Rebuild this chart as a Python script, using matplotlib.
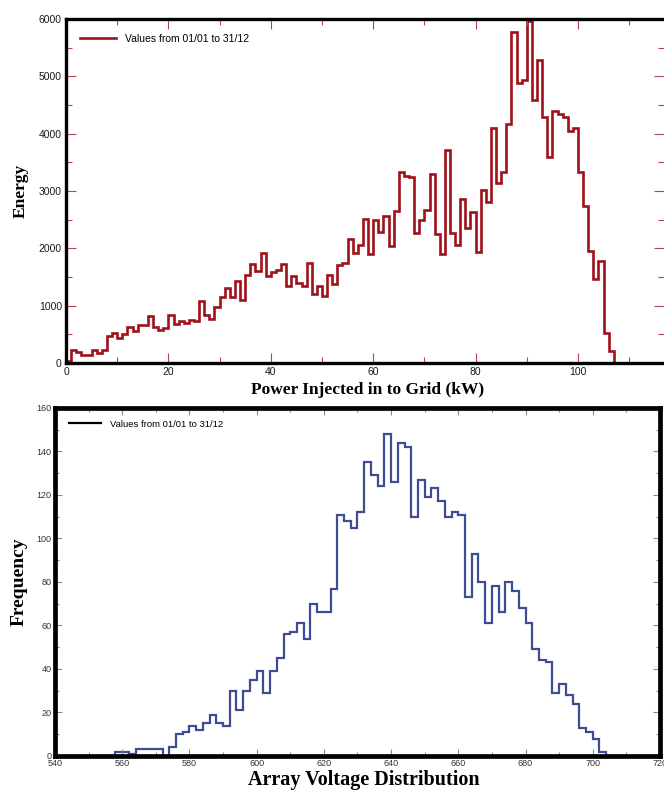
import numpy as np
import matplotlib
matplotlib.use("Agg")
import matplotlib.pyplot as plt
from matplotlib.ticker import MultipleLocator

# Energy injected per 1 kW power bin, starting at 0 kW
POWER_BIN_START = 0
POWER_BIN_WIDTH = 1
energy = [
    40, 222, 192, 140, 140, 222, 175, 227, 477, 524,
    442, 500, 628, 553, 657, 657, 820, 628, 582, 617,
    832, 675, 733, 698, 745, 733, 1082, 843, 774, 978,
    1152, 1315, 1152, 1425, 1106, 1530, 1722, 1610, 1920, 1513,
    1588, 1629, 1734, 1344, 1524, 1402, 1344, 1746, 1210, 1344,
    1164, 1536, 1373, 1716, 1746, 2171, 1920, 2066, 2508, 1909,
    2491, 2287, 2561, 2036, 2654, 3335, 3259, 3236, 2270, 2502,
    2677, 3294, 2247, 1909, 3720, 2270, 2066, 2858, 2357, 2625,
    1938, 3015, 2811, 4103, 3131, 3329, 4161, 5773, 4889, 4935,
    5970, 4586, 5285, 4295, 3597, 4394, 4342, 4295, 4045, 4091,
    3323, 2735, 1956, 1461, 1775, 524, 210,
]

# Array voltage histogram, 2 V bins starting at 558 V
VOLT_BIN_START = 558
VOLT_BIN_WIDTH = 2
frequency = [
    2, 2, 1, 3, 3, 3, 3, 0, 4, 10,
    11, 14, 12, 15, 19, 15, 14, 30, 21, 30,
    35, 39, 29, 39, 45, 56, 57, 61, 54, 70,
    66, 66, 77, 111, 108, 105, 112, 135, 129, 124,
    148, 126, 144, 142, 110, 127, 119, 123, 117, 110,
    112, 111, 73, 93, 80, 61, 78, 66, 80, 76,
    68, 61, 49, 44, 43, 29, 33, 28, 24, 13,
    11, 8, 2,
]

LEGEND_LABEL = "Values from 01/01 to 31/12"

RED = "#A0111A"
RED_TICK = "#B8444A"
BLUE = "#3E4C96"
GRAY_TICK = "#8A8A8A"

plt.rcParams.update({"font.family": ["Liberation Sans", "DejaVu Sans"]})
SERIF = ["Liberation Serif", "DejaVu Serif"]


def bin_edges(start, width, n):
    return start + width * np.arange(n + 1)


def style_axes(ax, tick_color, spine_width, major_len, minor_len, label_size, label_color, pad):
    ax.tick_params(which="both", direction="in", top=True, right=True, color=tick_color, width=0.8)
    ax.tick_params(which="major", length=major_len, labelsize=label_size,
                   labelcolor=label_color, pad=pad)
    ax.tick_params(which="minor", length=minor_len)
    for side in ("left", "right", "top", "bottom"):
        ax.spines[side].set_linewidth(spine_width)
        ax.spines[side].set_color("black")


fig = plt.figure(figsize=(6.64, 7.91), dpi=100)

# ---- top: energy vs power injected ----
ax1 = fig.add_axes([0.0994, 0.5411, 0.9006, 0.4349])
ax1.stairs(energy, bin_edges(POWER_BIN_START, POWER_BIN_WIDTH, len(energy)),
           color=RED, linewidth=1.9, label=LEGEND_LABEL)
ax1.set_xlim(0, 116.8)
ax1.set_ylim(0, 6000)
ax1.xaxis.set_major_locator(MultipleLocator(20))
ax1.xaxis.set_minor_locator(MultipleLocator(10))
ax1.yaxis.set_major_locator(MultipleLocator(1000))
ax1.yaxis.set_minor_locator(MultipleLocator(500))
style_axes(ax1, RED_TICK, 2.4, 7, 4, 7.5, "#1a1a1a", 3)
ax1.spines["right"].set_visible(False)
ax1.set_xlabel("Power Injected in to Grid (kW)", family=SERIF, fontweight="bold",
               fontsize=12.5, va="center")
ax1.xaxis.set_label_coords(0.505, -0.078)
ax1.set_ylabel("Energy", family=SERIF, fontweight="bold", fontsize=12.5, va="center")
ax1.yaxis.set_label_coords(-0.076, 0.5)
ax1.legend(loc="upper left", bbox_to_anchor=(0.0234, 0.956), frameon=False,
           fontsize=7.5, handlelength=3.5, handletextpad=0.8,
           borderpad=0, borderaxespad=0)

# ---- bottom: array voltage distribution ----
ax2 = fig.add_axes([0.0828, 0.04425, 0.9111, 0.44])
ax2.stairs(frequency, bin_edges(VOLT_BIN_START, VOLT_BIN_WIDTH, len(frequency)),
           color=BLUE, linewidth=1.6, label=LEGEND_LABEL)
ax2.set_xlim(540, 720)
ax2.set_ylim(0, 160)
ax2.xaxis.set_major_locator(MultipleLocator(20))
ax2.xaxis.set_minor_locator(MultipleLocator(10))
ax2.yaxis.set_major_locator(MultipleLocator(20))
ax2.yaxis.set_minor_locator(MultipleLocator(10))
style_axes(ax2, GRAY_TICK, 3.4, 5, 3, 6.5, "#333333", 2.5)
ax2.set_xlabel("Array Voltage Distribution", family=SERIF, fontweight="bold",
               fontsize=14.5, va="center")
ax2.xaxis.set_label_coords(0.51, -0.068)
ax2.set_ylabel("Frequency", family=SERIF, fontweight="bold", fontsize=14, va="center")
ax2.yaxis.set_label_coords(-0.06, 0.5)
leg = ax2.legend(loc="upper left", bbox_to_anchor=(0.023, 0.966), frameon=False,
                 fontsize=6.8, handlelength=3.4, handletextpad=0.95,
                 borderpad=0, borderaxespad=0)
for handle in leg.get_patches() + leg.get_lines():
    handle.set_color("black")

fig.savefig("out.png", dpi=100)
